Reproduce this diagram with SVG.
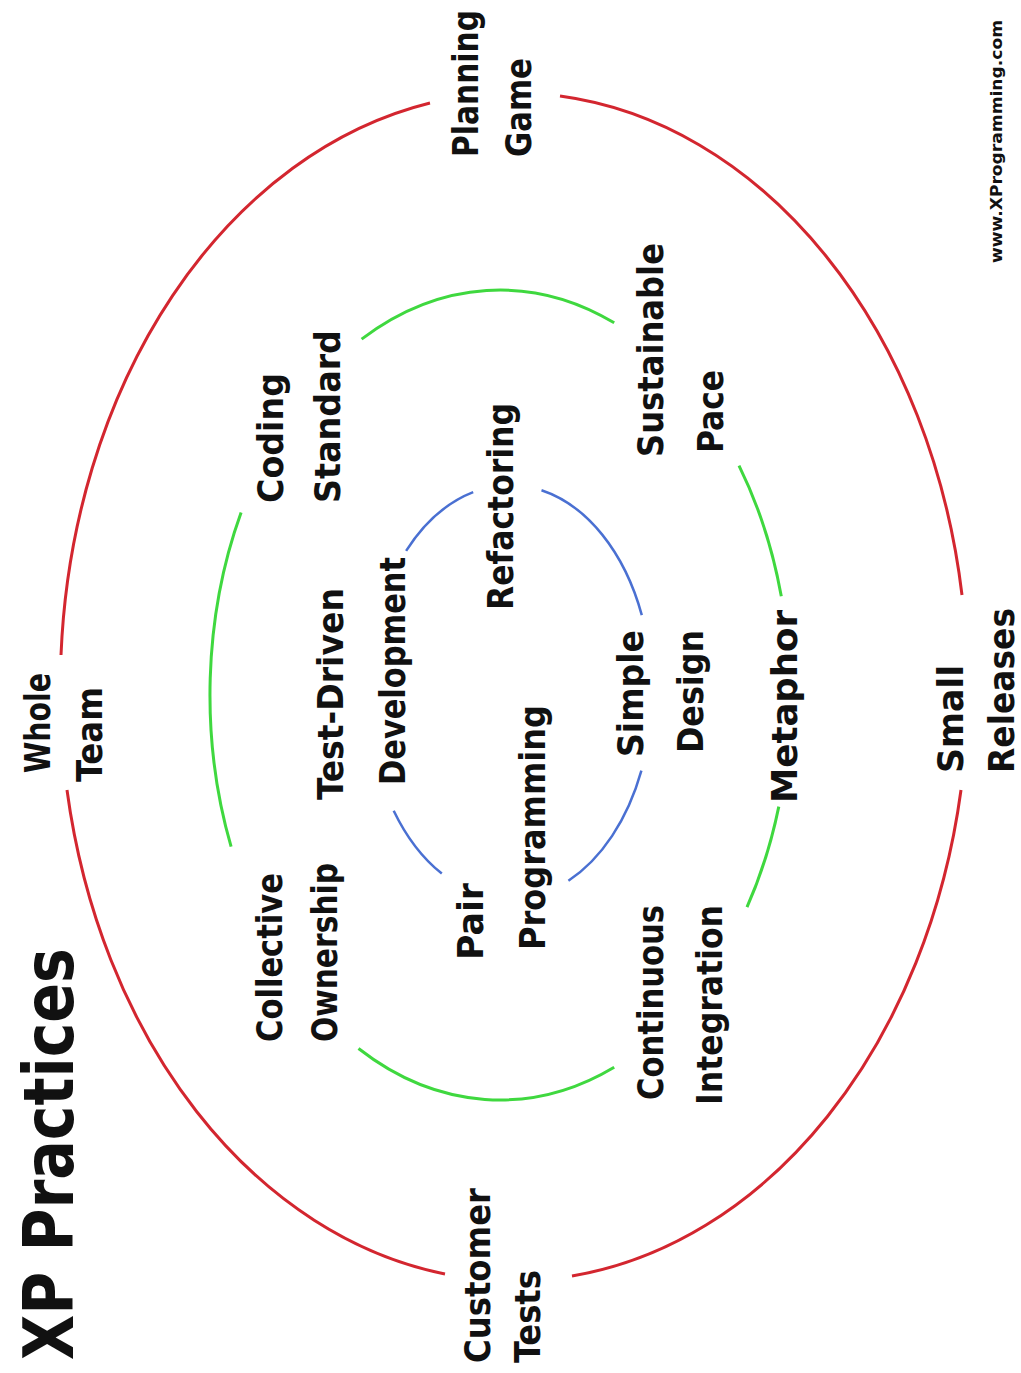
<svg xmlns="http://www.w3.org/2000/svg" width="1021" height="1373" viewBox="0 0 1021 1373">
<style>
.t{font-family:"DejaVu Sans Condensed","DejaVu Sans",sans-serif;font-weight:bold;font-size:35px;fill:#111}
.red{fill:none;stroke:#d3262f;stroke-width:3}
.green{fill:none;stroke:#3fd83f;stroke-width:3}
.blue{fill:none;stroke:#4a70d2;stroke-width:2.5}
</style>
<rect width="1021" height="1373" fill="#fff"/>
<g id="connectors">
<path class="red" d="M430,103 A454,594 0 0 0 61,655"/>
<path class="red" d="M67,790 A454,594 0 0 0 445,1274"/>
<path class="red" d="M572,1276 A454,594 0 0 0 961,790"/>
<path class="red" d="M962,595 A454,594 0 0 0 560,96"/>
<path class="green" d="M231.1,846.7 A290,405 0 0 1 241.1,512.4"/>
<path class="green" d="M361.6,339.1 A290,405 0 0 1 614.2,322.8"/>
<path class="green" d="M739,465.6 A290,405 0 0 1 781.3,596.3"/>
<path class="green" d="M778.8,806.6 A290,405 0 0 1 747,907.2"/>
<path class="green" d="M614.2,1067.2 A290,405 0 0 1 358.5,1048.5"/>
<path class="blue" d="M406.1,550.8 A142,207 0 0 1 473.2,492.1"/>
<path class="blue" d="M541.5,490.2 A142,207 0 0 1 641.8,615.1"/>
<path class="blue" d="M641.4,770.6 A142,207 0 0 1 568.4,880.7"/>
<path class="blue" d="M441.8,873.6 A142,207 0 0 1 393.7,810.7"/>
</g>
<g id="title"><text class="t" style="font-size:70px" transform="translate(73,1360) rotate(-90)" textLength="412" lengthAdjust="spacingAndGlyphs">XP Practices</text></g>
<g id="url"><text class="t" style="font-size:15px" transform="translate(1002,263) rotate(-90)" textLength="243" lengthAdjust="spacingAndGlyphs">www.XProgramming.com</text></g>
<g id="whole-team">
<text class="t" transform="translate(50,773) rotate(-90)" textLength="100" lengthAdjust="spacingAndGlyphs">Whole</text>
<text class="t" transform="translate(102,782) rotate(-90)" textLength="95" lengthAdjust="spacingAndGlyphs">Team</text>
</g>
<g id="planning-game">
<text class="t" transform="translate(478,157) rotate(-90)" textLength="147" lengthAdjust="spacingAndGlyphs">Planning</text>
<text class="t" transform="translate(531,157) rotate(-90)" textLength="99" lengthAdjust="spacingAndGlyphs">Game</text>
</g>
<g id="customer-tests">
<text class="t" transform="translate(490,1363) rotate(-90)" textLength="175" lengthAdjust="spacingAndGlyphs">Customer</text>
<text class="t" transform="translate(540,1363) rotate(-90)" textLength="93" lengthAdjust="spacingAndGlyphs">Tests</text>
</g>
<g id="small-releases">
<text class="t" transform="translate(963,773) rotate(-90)" textLength="108" lengthAdjust="spacingAndGlyphs">Small</text>
<text class="t" transform="translate(1014,773) rotate(-90)" textLength="165" lengthAdjust="spacingAndGlyphs">Releases</text>
</g>
<g id="coding-standard">
<text class="t" transform="translate(283,503) rotate(-90)" textLength="130" lengthAdjust="spacingAndGlyphs">Coding</text>
<text class="t" transform="translate(340,503) rotate(-90)" textLength="173" lengthAdjust="spacingAndGlyphs">Standard</text>
</g>
<g id="sustainable-pace">
<text class="t" transform="translate(663,457) rotate(-90)" textLength="214" lengthAdjust="spacingAndGlyphs">Sustainable</text>
<text class="t" transform="translate(723,453) rotate(-90)" textLength="83" lengthAdjust="spacingAndGlyphs">Pace</text>
</g>
<g id="test-driven-development">
<text class="t" transform="translate(343,800) rotate(-90)" textLength="212" lengthAdjust="spacingAndGlyphs">Test-Driven</text>
<text class="t" transform="translate(405,785) rotate(-90)" textLength="228" lengthAdjust="spacingAndGlyphs">Development</text>
</g>
<g id="refactoring"><text class="t" transform="translate(513,610) rotate(-90)" textLength="207" lengthAdjust="spacingAndGlyphs">Refactoring</text></g>
<g id="simple-design">
<text class="t" transform="translate(643,757) rotate(-90)" textLength="127" lengthAdjust="spacingAndGlyphs">Simple</text>
<text class="t" transform="translate(703,753) rotate(-90)" textLength="123" lengthAdjust="spacingAndGlyphs">Design</text>
</g>
<g id="metaphor"><text class="t" transform="translate(797,803) rotate(-90)" textLength="193" lengthAdjust="spacingAndGlyphs">Metaphor</text></g>
<g id="collective-ownership">
<text class="t" transform="translate(282,1042) rotate(-90)" textLength="169" lengthAdjust="spacingAndGlyphs">Collective</text>
<text class="t" transform="translate(337,1042) rotate(-90)" textLength="179" lengthAdjust="spacingAndGlyphs">Ownership</text>
</g>
<g id="pair-programming">
<text class="t" transform="translate(483,960) rotate(-90)" textLength="77" lengthAdjust="spacingAndGlyphs">Pair</text>
<text class="t" transform="translate(545,950) rotate(-90)" textLength="245" lengthAdjust="spacingAndGlyphs">Programming</text>
</g>
<g id="continuous-integration">
<text class="t" transform="translate(663,1100) rotate(-90)" textLength="195" lengthAdjust="spacingAndGlyphs">Continuous</text>
<text class="t" transform="translate(722,1105) rotate(-90)" textLength="200" lengthAdjust="spacingAndGlyphs">Integration</text>
</g>
</svg>
